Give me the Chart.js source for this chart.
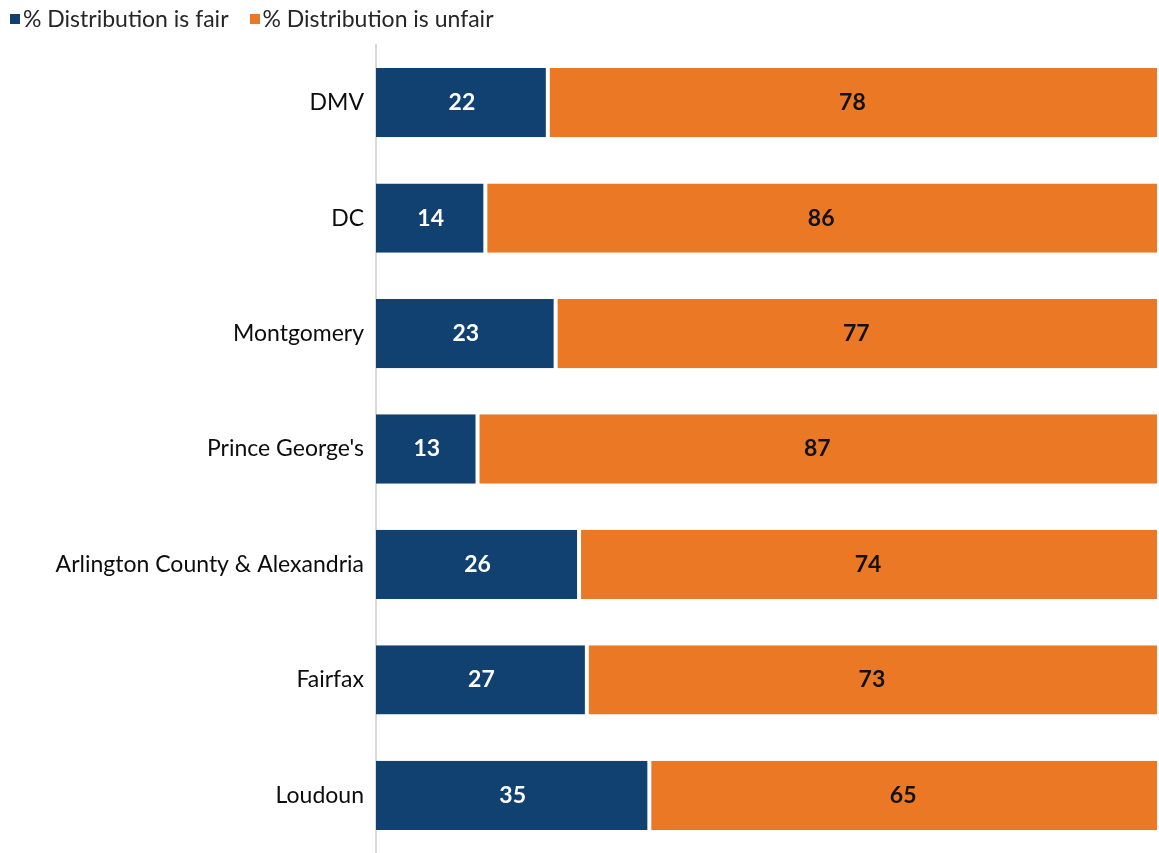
<!DOCTYPE html>
<html>
<head>
<meta charset="utf-8">
<script src="https://cdn.jsdelivr.net/npm/chart.js@4"></script>
<style>
  html, body { margin: 0; padding: 0; background: #fff; }
  #wrap { position: relative; width: 1159px; height: 853px; }
  #legend { position: absolute; top: 4px; left: 10px; display: flex; gap: 21px;
            font: 23px Lato, 'Open Sans', sans-serif; color: #262626; }
  #legend .item { display: flex; align-items: center; white-space: nowrap; }
  #legend .sw { width: 10px; height: 10px; margin-right: 3px; margin-top: 2px; }
</style>
</head>
<body>
<div id="wrap">
  <div id="legend"></div>
  <canvas id="chart" width="1159" height="853"></canvas>
</div>
<script>
// ── Data ──────────────────────────────────────────────
const regions = ["DMV", "DC", "Montgomery", "Prince George's", "Arlington County & Alexandria", "Fairfax", "Loudoun"];
const fairPct   = [22, 14, 23, 13, 26, 27, 35];
const unfairPct = [78, 86, 77, 87, 74, 73, 65];

const NAVY   = "#104170";
const ORANGE = "#EA7825";
const FONT   = "Lato, 'Open Sans', sans-serif";

// Value labels drawn in the middle of each segment
const barLabels = {
  id: "barLabels",
  afterDatasetsDraw(chart) {
    const { ctx } = chart;
    chart.data.datasets.forEach((ds, i) => {
      const meta = chart.getDatasetMeta(i);
      meta.data.forEach((bar, j) => {
        const mid = (bar.x + bar.base) / 2;
        ctx.save();
        ctx.font = `bold 23px ${FONT}`;
        ctx.fillStyle = i === 0 ? "#ffffff" : "#111111";
        ctx.textAlign = "center";
        ctx.textBaseline = "middle";
        ctx.fillText(ds.data[j], mid, bar.y);
        ctx.restore();
      });
    });
  },
};

const chart = new Chart(document.getElementById("chart").getContext("2d"), {
  type: "bar",
  data: {
    labels: regions,
    datasets: [
      {
        label: "% Distribution is fair",
        data: fairPct,
        backgroundColor: NAVY,
        borderColor: "#ffffff",
        borderWidth: { top: 0, bottom: 0, left: 0, right: 2 },
        borderSkipped: false,
      },
      {
        label: "% Distribution is unfair",
        data: unfairPct,
        backgroundColor: ORANGE,
        borderColor: "#ffffff",
        borderWidth: { top: 0, bottom: 0, left: 2, right: 0 },
        borderSkipped: false,
      },
    ],
  },
  options: {
    indexAxis: "y",
    responsive: false,
    animation: false,
    layout: { padding: { top: 45, right: 2, left: 0, bottom: 0 } },
    datasets: { bar: { categoryPercentage: 1, barPercentage: 0.6 } },
    plugins: {
      legend: { display: false },
      tooltip: { enabled: false },
    },
    scales: {
      x: { stacked: true, min: 0, max: 100, display: false },
      y: {
        stacked: true,
        // fixed label column, no extra label padding top/bottom
        afterFit: (s) => { s.width = 376; s.paddingTop = 0; s.paddingBottom = 0; },
        grid: { display: false, drawTicks: false },
        border: { color: "#d9d9d9", width: 2 },
        ticks: { color: "#0d0d0d", padding: 12, font: { family: FONT, size: 23 } },
      },
    },
  },
  plugins: [barLabels],
});

// HTML legend built from the datasets
document.getElementById("legend").innerHTML = chart.data.datasets.map((d) =>
  `<span class="item"><span class="sw" style="background:${d.backgroundColor}"></span>${d.label}</span>`
).join("");
</script>
</body>
</html>
